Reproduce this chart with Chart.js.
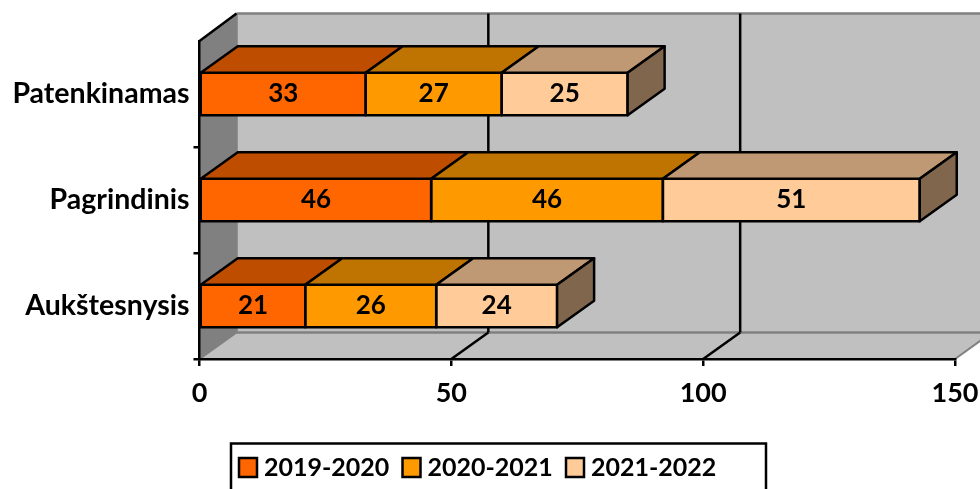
<!DOCTYPE html>
<html>
<head>
<meta charset="utf-8">
<style>
  html, body { margin: 0; padding: 0; background: #fff; overflow: hidden; }
  canvas { display: block; }
</style>
<script src="https://cdn.jsdelivr.net/npm/chart.js@4/dist/chart.umd.min.js"></script>
</head>
<body>
<canvas id="chart" width="980" height="489"></canvas>
<script>
const categories = ['Patenkinamas', 'Pagrindinis', 'Aukštesnysis'];
const years = ['2019-2020', '2020-2021', '2021-2022'];
const values2019 = [33, 46, 21];
const values2020 = [27, 46, 26];
const values2021 = [25, 51, 24];
const xTicks = [0, 50, 100, 150];

const frontColors = ['#FF6600', '#FF9900', '#FFCC99'];
const topColors = ['#BF4D00', '#BF7300', '#BF9973'];
const sideColors = ['#803300', '#804D00', '#80664D'];

const depthX = 37;
const depthY = 26.5;
const fontName = 'Lato, "Open Sans", sans-serif';

function poly(ctx, pts, fill, stroke, width) {
    ctx.beginPath();
    pts.forEach((p, i) => i ? ctx.lineTo(p[0], p[1]) : ctx.moveTo(p[0], p[1]));
    ctx.closePath();
    if (fill) {
        ctx.fillStyle = fill;
        ctx.fill();
    }
    if (stroke) {
        ctx.strokeStyle = stroke;
        ctx.lineWidth = width;
        ctx.lineJoin = 'round';
        ctx.stroke();
    }
}

function line(ctx, x1, y1, x2, y2, color, width) {
    ctx.beginPath();
    ctx.moveTo(x1, y1);
    ctx.lineTo(x2, y2);
    ctx.strokeStyle = color;
    ctx.lineWidth = width;
    ctx.stroke();
}

// back wall, side wall and floor of the 3d box
const wallsPlugin = {
    id: 'walls',
    beforeDraw(chart) {
        const { ctx, chartArea: a, scales } = chart;
        const wallTop = a.top - depthY - 1;
        const wallBottom = a.bottom - depthY;
        ctx.save();
        poly(ctx, [[a.left + depthX, wallTop], [a.right + depthX, wallTop], [a.right + depthX, wallBottom], [a.left + depthX, wallBottom]], '#C0C0C0');
        poly(ctx, [[a.left, a.top], [a.left + depthX, wallTop], [a.left + depthX, wallBottom], [a.left, a.bottom]], '#808080');
        poly(ctx, [[a.left, a.bottom], [a.right, a.bottom], [a.right + depthX, wallBottom], [a.left + depthX, wallBottom]], '#C0C0C0');

        line(ctx, a.left + depthX, wallTop, a.right + depthX, wallTop, '#808080', 2.5);
        line(ctx, a.left + depthX, wallTop, a.left + depthX, wallBottom, '#808080', 2.5);
        line(ctx, a.left + depthX, wallBottom, a.right + depthX, wallBottom, '#808080', 2.5);
        line(ctx, a.left, a.bottom, a.left + depthX, wallBottom, '#808080', 2);
        line(ctx, a.right, a.bottom, a.right + depthX, wallBottom, '#808080', 2);
        line(ctx, a.left, a.top, a.left + depthX, wallTop, '#000', 2.5);

        xTicks.slice(1, -1).forEach(v => {
            const x = scales.x.getPixelForValue(v);
            line(ctx, x + depthX, wallTop, x + depthX, wallBottom, '#000', 2.5);
            line(ctx, x, a.bottom, x + depthX, wallBottom, '#000', 2.5);
        });
        ctx.restore();
    }
};

// outlines, top and side faces of the bars, the value labels and the boxed legend
const facesPlugin = {
    id: 'faces',
    afterDatasetsDraw(chart) {
        const { ctx } = chart;
        ctx.save();
        chart.data.datasets.forEach((ds, d) => {
            chart.getDatasetMeta(d).data.forEach((bar, i) => {
                const top = bar.y - bar.height / 2;
                const bottom = bar.y + bar.height / 2;
                poly(ctx, [[bar.base, top], [bar.x, top], [bar.x, bottom], [bar.base, bottom]], null, '#000', 2.5);
                poly(ctx, [[bar.base, top], [bar.x, top], [bar.x + depthX, top - depthY], [bar.base + depthX, top - depthY]], topColors[d], '#000', 2.5);
                if (d === chart.data.datasets.length - 1) {
                    poly(ctx, [[bar.x, top], [bar.x + depthX, top - depthY], [bar.x + depthX, bottom - depthY], [bar.x, bottom]], sideColors[d], '#000', 2.5);
                }
                ctx.fillStyle = '#000';
                ctx.font = 'bold 26px ' + fontName;
                ctx.textAlign = 'center';
                ctx.textBaseline = 'middle';
                ctx.fillText(ds.data[i], (bar.base + bar.x) / 2, bar.y);
            });
        });
        ctx.restore();
    },
    afterDraw(chart) {
        const { ctx } = chart;
        ctx.save();
        ctx.strokeStyle = '#000';
        ctx.lineWidth = 2.5;
        ctx.strokeRect(231, 443.5, 535, 60);
        chart.data.datasets.forEach((ds, d) => {
            const x = 239 + d * 163.5;
            ctx.fillStyle = ds.backgroundColor;
            ctx.fillRect(x, 458, 18, 19);
            ctx.strokeRect(x, 458, 18, 19);
            ctx.fillStyle = '#000';
            ctx.font = 'bold 25px ' + fontName;
            ctx.textAlign = 'left';
            ctx.textBaseline = 'middle';
            ctx.fillText(ds.label, x + 25, 468);
        });
        ctx.restore();
    }
};

new Chart(document.getElementById('chart').getContext('2d'), {
    type: 'bar',
    data: {
        labels: categories,
        datasets: [
            { label: years[0], data: values2019, backgroundColor: frontColors[0] },
            { label: years[1], data: values2020, backgroundColor: frontColors[1] },
            { label: years[2], data: values2021, backgroundColor: frontColors[2] }
        ]
    },
    options: {
        indexAxis: 'y',
        responsive: false,
        animation: false,
        layout: { padding: { top: 41, bottom: 84, left: 0, right: 0 } },
        datasets: {
            bar: {
                categoryPercentage: 1,
                barPercentage: 0.4,
                borderWidth: 0
            }
        },
        plugins: {
            legend: { display: false },
            tooltip: { enabled: false }
        },
        scales: {
            x: {
                stacked: true,
                min: 0,
                max: 150,
                afterBuildTicks: scale => { scale.ticks = xTicks.map(value => ({ value })); },
                afterFit: scale => {
                    scale.height = 46;
                    scale.paddingRight = 25;
                },
                ticks: {
                    color: '#000',
                    font: { family: fontName, size: 27, weight: 'bold' },
                    padding: 11,
                    maxRotation: 0
                },
                grid: { drawOnChartArea: false, color: '#000', lineWidth: 2.5, tickLength: 7 },
                border: { color: '#000', width: 2.5 }
            },
            y: {
                stacked: true,
                afterFit: scale => { scale.width = 199.5; },
                ticks: {
                    color: '#000',
                    font: { family: fontName, size: 28.5, weight: 'bold' },
                    padding: 4
                },
                grid: {
                    drawOnChartArea: false,
                    lineWidth: 2.5,
                    tickLength: 6,
                    tickColor: ctx => ctx.index === 0 ? 'transparent' : '#000'
                },
                border: { color: '#000', width: 2.5 }
            }
        }
    },
    plugins: [wallsPlugin, facesPlugin]
});
</script>
</body>
</html>
